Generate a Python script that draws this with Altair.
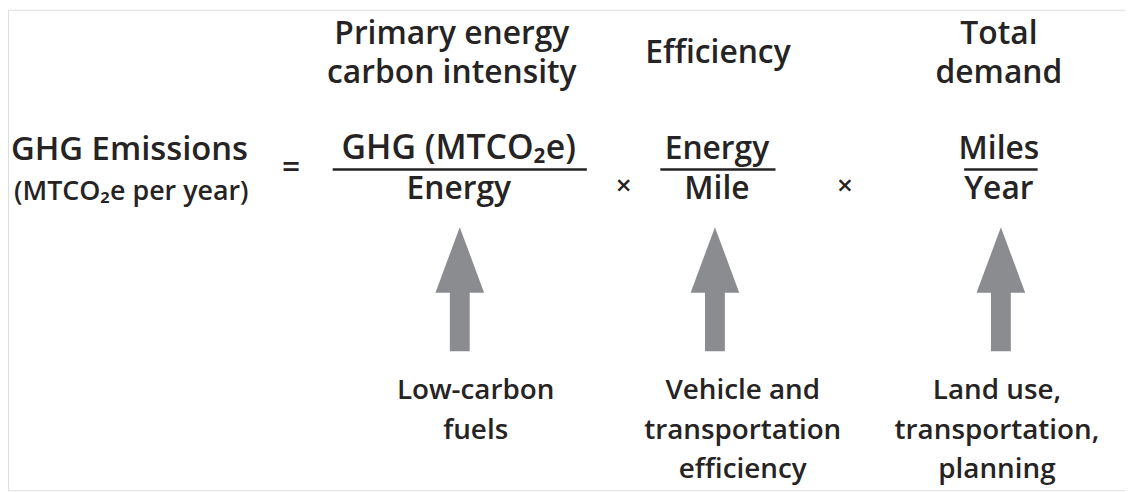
import altair as alt
import pandas as pd

# ---- content ----
center_texts = [
    "Primary energy", "carbon intensity", "Efficiency", "Total", "demand",
    "GHG (MTCO₂e)", "Energy", "Energy", "Mile", "Miles", "Year",
    "Low-carbon", "fuels",
    "Vehicle and", "transportation", "efficiency",
    "Land use,", "transportation,", "planning",
]
# layout (image pixel coordinates)
center_x = [455, 455, 723, 1006, 1006,
            462, 462, 722, 722, 1006, 1006,
            479, 479,
            748, 748, 748,
            1004, 1004, 1004]
center_y = [43, 82, 62, 43, 82,
            158, 199, 158, 199, 158, 199,
            400, 440,
            400, 440, 480,
            400, 440, 480]
center_size = [32, 32, 32, 32, 32,
               34, 32, 32, 32, 32, 32,
               28, 28,
               28, 28, 28,
               28, 28, 28]

left_texts = ["GHG Emissions", "(MTCO₂e per year)"]
left_x = [11, 14]
left_y = [159, 200]
left_size = [33, 27]

op_texts = ["=", "×", "×"]
op_x = [293, 628, 851]
op_y = [167, 187, 187]
op_size = [32, 28, 28]

# fraction bars
bar_x1 = [335, 665, 971]
bar_x2 = [591, 781, 1045]
bar_y = [169, 169, 169]

# arrows
arrow_cx = [463, 720, 1008]
tip_y = 227
head_y = 293
head_half = 24.5
shaft_half = 10
shaft_bottom = 352

FONT = "Open Sans"
TXT = "#262324"
GRAY = "#8b8c90"

X = alt.X("x:Q", scale=alt.Scale(domain=[8, 1133], nice=False, zero=False), axis=None)
Y = alt.Y("y:Q", scale=alt.Scale(domain=[8, 492], nice=False, zero=False, reverse=True), axis=None)

df_c = pd.DataFrame({"t": center_texts, "x": center_x, "y": center_y, "s": center_size})
df_l = pd.DataFrame({"t": left_texts, "x": left_x, "y": left_y, "s": left_size})
df_o = pd.DataFrame({"t": op_texts, "x": op_x, "y": op_y, "s": op_size})
df_b = pd.DataFrame({"x": bar_x1, "x2": bar_x2, "y": bar_y})

# arrow heads: custom triangle symbol, unit = sqrt(size)/2 px
half_h = (head_y - tip_y) / 2.0
df_h = pd.DataFrame({"x": arrow_cx, "y": [(tip_y + head_y) / 2.0] * len(arrow_cx)})
tri_w = head_half / half_h
tri_path = f"M{-tri_w:.3f},1L0,-1L{tri_w:.3f},1Z"
tri_size = (2 * half_h) ** 2

df_s = pd.DataFrame({
    "x": [c - shaft_half for c in arrow_cx],
    "x2": [c + shaft_half for c in arrow_cx],
    "y": [head_y - 1] * len(arrow_cx),
    "y2": [shaft_bottom] * len(arrow_cx),
})

centered = alt.Chart(df_c).mark_text(
    font=FONT, fontWeight=600, color=TXT, align="center", baseline="alphabetic"
).encode(x=X, y=Y, text="t:N", size=alt.Size("s:Q", scale=None))

left = alt.Chart(df_l).mark_text(
    font=FONT, fontWeight=600, color=TXT, align="left", baseline="alphabetic"
).encode(x=X, y=Y, text="t:N", size=alt.Size("s:Q", scale=None))

ops = alt.Chart(df_o).mark_text(
    font=FONT, fontWeight=600, color=TXT, align="center", baseline="middle"
).encode(x=X, y=Y, text="t:N", size=alt.Size("s:Q", scale=None))

bars = alt.Chart(df_b).mark_rule(color=TXT, strokeWidth=2.5).encode(
    x=X, x2="x2:Q", y=Y
)

heads = alt.Chart(df_h).mark_point(
    shape=tri_path, size=tri_size, filled=True, color=GRAY, opacity=1, strokeWidth=0
).encode(x=X, y=Y)

shafts = alt.Chart(df_s).mark_rect(color=GRAY).encode(
    x=X, x2="x2:Q", y=Y, y2="y2:Q"
)

chart = alt.layer(heads, shafts, bars, centered, left, ops).properties(
    width=1125, height=484, padding=0, autosize=alt.AutoSizeParams(type="none")
).configure_view(stroke=None).configure(background="white")

chart.save("out.html", embed_options={"renderer": "svg", "actions": False})
